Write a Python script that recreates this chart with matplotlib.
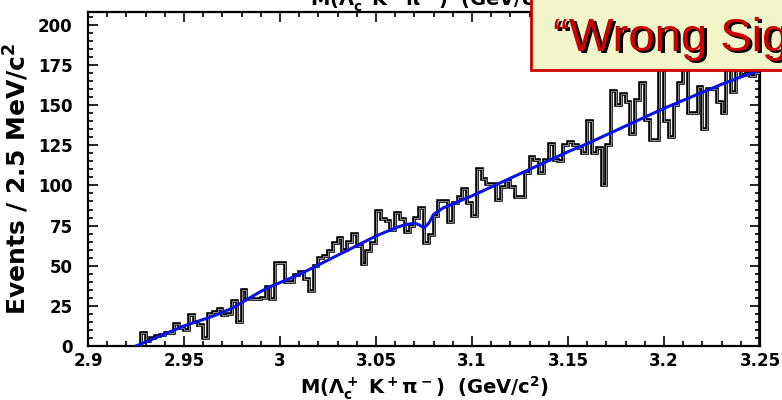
import numpy as np
import matplotlib
matplotlib.use("Agg")
import matplotlib.pyplot as plt
from matplotlib.patches import Rectangle
from matplotlib.ticker import MultipleLocator

plt.rcParams['font.family'] = ['DejaVu Sans']
plt.rcParams['font.weight'] = 'bold'
plt.rcParams['axes.labelweight'] = 'bold'
plt.rcParams['mathtext.fontset'] = 'custom'
plt.rcParams['mathtext.rm'] = 'DejaVu Sans:bold'
plt.rcParams['mathtext.it'] = 'DejaVu Sans:bold'
plt.rcParams['mathtext.bf'] = 'DejaVu Sans:bold'

# wrong-sign Lambda_c+ K+ pi- mass spectrum, 2.5 MeV bins starting at 2.925 GeV
BIN_LO = 2.925
BIN_WIDTH = 0.0025
counts = [
    0, 8, 3, 5, 6, 7, 8, 8, 14, 11,
    10, 19, 15, 13, 5, 20, 21, 23, 19, 20,
    28, 15, 35, 29, 29, 29, 30, 37, 29, 52,
    52, 40, 40, 44, 46, 42, 34, 50, 55, 56,
    59, 64, 67, 60, 65, 70, 62, 51, 59, 64,
    84, 79, 78, 72, 83, 79, 71, 75, 80, 86,
    64, 69, 81, 90, 90, 77, 89, 93, 98, 89,
    81, 110, 104, 101, 101, 91, 99, 103, 99, 93,
    93, 108, 118, 116, 108, 116, 126, 116, 115, 125,
    127, 125, 123, 120, 140, 120, 123, 100, 125, 159,
    150, 157, 152, 132, 153, 164, 141, 128, 128, 178,
    140, 130, 150, 164, 180, 145, 145, 161, 135, 160,
    160, 152, 145, 178, 158, 175, 169, 170, 168, 170,
]

# fitted curve (threshold background with the dip near 3.077)
fit_mass = [2.925, 2.93, 2.935, 2.94, 2.945, 2.95, 2.955, 2.96, 2.965, 2.97,
            2.975, 2.98, 2.985, 2.99, 2.995, 3.0, 3.005, 3.01, 3.015, 3.02,
            3.025, 3.03, 3.035, 3.04, 3.045, 3.05, 3.055, 3.06, 3.065, 3.07,
            3.0725, 3.075, 3.0775, 3.08, 3.085, 3.09, 3.1, 3.11, 3.12, 3.13,
            3.14, 3.15, 3.16, 3.17, 3.18, 3.19, 3.2, 3.21, 3.22, 3.23, 3.24, 3.25]
fit_events = [0, 2.5, 5, 7.5, 10, 12.5, 14.5, 16.5, 18.5, 21,
              23.5, 27, 30.5, 34, 37, 39.5, 42, 44.5, 47.5, 50.5,
              53.5, 56.5, 59.5, 62.5, 65.5, 68.5, 71, 73.5, 75.5, 76.5,
              75.5, 73.5, 76.5, 82, 86, 88.5, 93.5, 99, 104.5, 110,
              115.5, 121, 126, 131.5, 137, 142.5, 148, 153, 158, 163, 167.5, 172]

xticks = [2.9, 2.95, 3.0, 3.05, 3.1, 3.15, 3.2, 3.25]
xtick_labels = ['2.9', '2.95', '3', '3.05', '3.1', '3.15', '3.2', '3.25']
yticks = [0, 25, 50, 75, 100, 125, 150, 175, 200]

edges = BIN_LO + BIN_WIDTH * np.arange(len(counts) + 1)

fig = plt.figure(figsize=(7.82, 4.0), dpi=100)
ax = fig.add_axes([0.1125, 0.135, 0.8594, 0.835])

ax.stairs(counts, edges, baseline=0, color='black', lw=2.6, zorder=2)
ax.stairs(counts, edges, baseline=0, color='#8c8c8c', lw=0.7, zorder=3)
ax.plot(fit_mass, fit_events, color='#0a14e6', lw=2.2, zorder=4)

ax.set_xlim(2.9, 3.25)
ax.set_ylim(0, 208)
ax.set_xticks(xticks)
ax.set_xticklabels(xtick_labels)
ax.set_yticks(yticks)
ax.xaxis.set_minor_locator(MultipleLocator(0.01))
ax.yaxis.set_minor_locator(MultipleLocator(5))
ax.tick_params(which='both', direction='in', top=True, right=True, width=1.2)
ax.tick_params(which='major', length=7)
ax.tick_params(which='minor', length=3.5)
ax.tick_params(axis='x', which='major', labelsize=12, pad=4)
ax.tick_params(axis='y', which='major', labelsize=12, pad=11)
for sp in ax.spines.values():
    sp.set_linewidth(1.6)

ax.set_xlabel(r"M($\Lambda_c^+$ K$^+\pi^-$)  (GeV/c$^2$)", fontsize=14)
ax.xaxis.set_label_coords(0.5, -0.085)
ax.set_ylabel(r"Events / 2.5 MeV/c$^2$", fontsize=18)
ax.yaxis.set_label_coords(-0.085, 0.5)

# title line running off the top edge
fig.text(0.397, 1.0, r"M($\Lambda_c^+$K$^+\pi^-$)  (GeV/c$^2$)", fontsize=14,
         ha='left', va='center')

# slide banner in the upper right corner
banner = Rectangle((531 / 782, 1 - 70 / 400), 0.4, 0.3, transform=fig.transFigure,
                   facecolor='#f2f5c8', edgecolor='#cc0000', lw=2.0, zorder=10,
                   clip_on=False)
fig.patches.append(banner)
bx, by = 553 / 782, 1 - 51 / 400
fig.text(bx + 2.5 / 782, by - 2.5 / 400, "\u201cWrong Sign\u201d", fontsize=34,
         family='Liberation Sans', fontweight='normal', color='black',
         ha='left', va='baseline', zorder=11)
fig.text(bx, by, "\u201cWrong Sign\u201d", fontsize=34, family='Liberation Sans',
         fontweight='normal', color='#cc0000', ha='left', va='baseline', zorder=12)

fig.savefig("out.png", dpi=100)
